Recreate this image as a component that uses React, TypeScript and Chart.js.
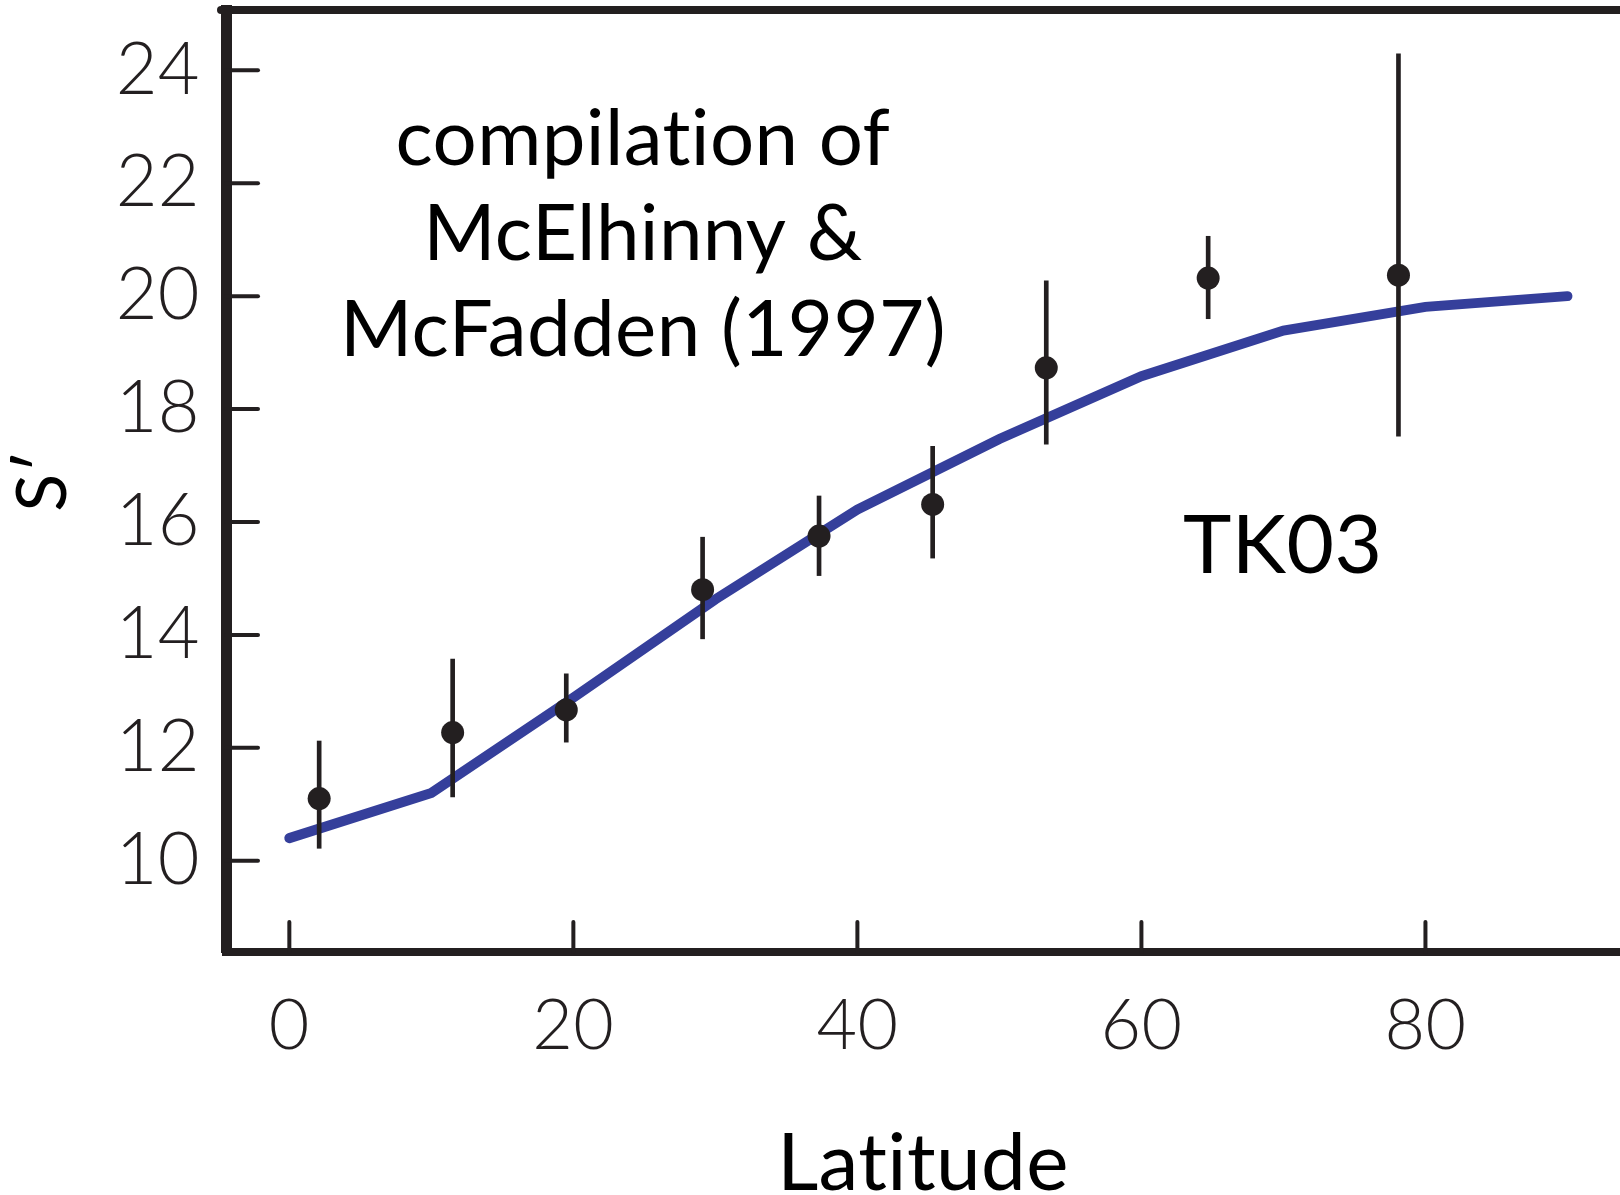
import React, { useEffect, useRef } from "react";
import { Chart, registerables } from "chart.js";

Chart.register(...registerables);

// ---- data ----
const latitudeTicks = [0, 20, 40, 60, 80];
const sTicks = [10, 12, 14, 16, 18, 20, 22, 24];

const modelLatitudes = [0, 10, 20, 30, 40, 50, 60, 70, 80, 90];
const modelS = [10.4, 11.2, 12.89, 14.63, 16.22, 17.47, 18.58, 19.39, 19.81, 20.0];

const siteLatitudes = [2.1, 11.5, 19.5, 29.1, 37.3, 45.3, 53.3, 64.7, 78.1];
const siteS = [11.1, 12.27, 12.67, 14.8, 15.75, 16.31, 18.73, 20.32, 20.37];
const siteLow = [10.22, 11.13, 12.1, 13.93, 15.05, 15.36, 17.38, 19.6, 17.52];
const siteHigh = [12.12, 13.57, 13.31, 15.73, 16.46, 17.34, 20.27, 21.06, 24.29];

const annotationLines = ["compilation of", "McElhinny &", "McFadden (1997)"];
const annotationLat = 24.9;
const annotationS = [22.32, 20.64, 18.94];
const modelLabel = "TK03";
const modelLabelLat = 69.95;
const modelLabelS = 15.09;

const xTitle = "Latitude";
const yTitle = "S\u2032";

const INK = "#231F20";
const BLUE = "#353F9B";

const noLigaturePlugin = {
  id: "noLigatures",
  beforeDraw(chart: any) {
    try {
      (chart.ctx as any).letterSpacing = "0.4px";
    } catch (e) {
      /* ignore */
    }
  },
};

const framePlugin = {
  id: "frame",
  afterDraw(chart: any) {
    const { ctx, chartArea, scales } = chart;
    const x = scales.x;
    const y = scales.y;
    ctx.save();
    ctx.strokeStyle = INK;
    ctx.lineCap = "round";
    // top frame line
    ctx.lineWidth = 8;
    ctx.beginPath();
    ctx.moveTo(chartArea.left - 5, chartArea.top);
    ctx.lineTo(chart.width + 10, chartArea.top);
    ctx.stroke();
    // inward ticks
    ctx.lineWidth = 4;
    y.ticks.forEach((t: any) => {
      const py = y.getPixelForValue(t.value);
      ctx.beginPath();
      ctx.moveTo(chartArea.left, py);
      ctx.lineTo(chartArea.left + 32, py);
      ctx.stroke();
    });
    x.ticks.forEach((t: any) => {
      const px = x.getPixelForValue(t.value);
      ctx.beginPath();
      ctx.moveTo(px, chartArea.bottom);
      ctx.lineTo(px, chartArea.bottom - 30);
      ctx.stroke();
    });
    ctx.restore();
  },
};

const textPlugin = {
  id: "annotText",
  afterDatasetsDraw(chart: any) {
    const { ctx, scales } = chart;
    const x = scales.x;
    const y = scales.y;
    ctx.save();
    ctx.fillStyle = "#000";
    ctx.textAlign = "center";
    ctx.textBaseline = "alphabetic";
    ctx.font = '400 78px Lato, "Noto Sans", sans-serif';
    annotationLines.forEach((line, i) => {
      ctx.fillText(line, x.getPixelForValue(annotationLat), y.getPixelForValue(annotationS[i]));
    });
    ctx.font = '400 82px Lato, "Noto Sans", sans-serif';
    ctx.fillText(modelLabel, x.getPixelForValue(modelLabelLat), y.getPixelForValue(modelLabelS));
    ctx.restore();
  },
};

export default function App() {
  const ref = useRef<HTMLCanvasElement | null>(null);

  useEffect(() => {
    document.body.style.margin = "0";
    const canvas = ref.current;
    if (!canvas) return;
    const chart = new Chart(canvas, {
      type: "line",
      data: {
        datasets: [
          {
            type: "scatter",
            label: "sites",
            data: siteLatitudes.map((lat, i) => ({ x: lat, y: siteS[i] })),
            backgroundColor: INK,
            borderColor: INK,
            pointRadius: 11.5,
            pointBorderWidth: 0,
            showLine: false,
            order: 0,
          } as any,
          {
            type: "bar",
            label: "errors",
            data: siteLatitudes.map((lat, i) => ({ x: lat, y: [siteLow[i], siteHigh[i]] })),
            backgroundColor: INK,
            borderWidth: 0,
            barThickness: 4,
            order: 1,
          } as any,
          {
            type: "line",
            label: "TK03",
            data: modelLatitudes.map((lat, i) => ({ x: lat, y: modelS[i] })),
            borderColor: BLUE,
            borderWidth: 10,
            borderCapStyle: "round",
            borderJoinStyle: "miter",
            pointRadius: 0,
            tension: 0,
            fill: false,
            order: 2,
          } as any,
        ],
      },
      options: {
        responsive: false,
        animation: false,
        devicePixelRatio: 1,
        layout: { autoPadding: false, padding: { top: 10, left: 0, right: 0, bottom: 0 } },
        plugins: {
          legend: { display: false },
          tooltip: { enabled: false },
        },
        scales: {
          x: {
            type: "linear",
            min: -4.46,
            max: 93.7,
            offset: false,
            grid: { display: false, drawTicks: false },
            border: { display: true, color: INK, width: 8 },
            afterBuildTicks: (s: any) => {
              s.ticks = latitudeTicks.map((v) => ({ value: v }));
            },
            afterFit: (s: any) => {
              s.height = 243;
              s.paddingLeft = 0;
              s.paddingRight = 0;
              s.paddingTop = 0;
              s.paddingBottom = 0;
            },
            ticks: {
              color: INK,
              padding: 32,
              font: { family: "Lato, 'Noto Sans', sans-serif", size: 70, weight: "300" as any },
              callback: (v: any) => String(v),
            },
            title: {
              display: true,
              text: xTitle,
              color: "#000",
              font: { family: "Lato, 'Noto Sans', sans-serif", size: 80, weight: "400" as any, lineHeight: 0.6 },
              padding: { top: 0, bottom: 7 },
            },
          },
          y: {
            type: "linear",
            min: 8.383,
            max: 25.068,
            grid: { display: false, drawTicks: false },
            border: { display: true, color: INK, width: 11 },
            afterBuildTicks: (s: any) => {
              s.ticks = sTicks.map((v) => ({ value: v }));
            },
            afterFit: (s: any) => {
              s.width = 226;
              s.paddingLeft = 0;
              s.paddingRight = 0;
              s.paddingTop = 0;
              s.paddingBottom = 0;
            },
            ticks: {
              color: INK,
              padding: 26,
              font: { family: "Lato, 'Noto Sans', sans-serif", size: 72, weight: "300" as any },
              callback: (v: any) => String(v),
            },
            title: {
              display: true,
              text: yTitle,
              color: "#000",
              font: { family: "Lato, 'Noto Sans', sans-serif", size: 70, weight: "400" as any },
              padding: { top: 1, bottom: 0 },
            },
          },
        },
      },
      plugins: [noLigaturePlugin, framePlugin, textPlugin],
    });
    return () => chart.destroy();
  }, []);

  return (
    <canvas
      ref={ref}
      width={1620}
      height={1195}
      style={{ display: "block", width: "1620px", height: "1195px" }}
    />
  );
}
